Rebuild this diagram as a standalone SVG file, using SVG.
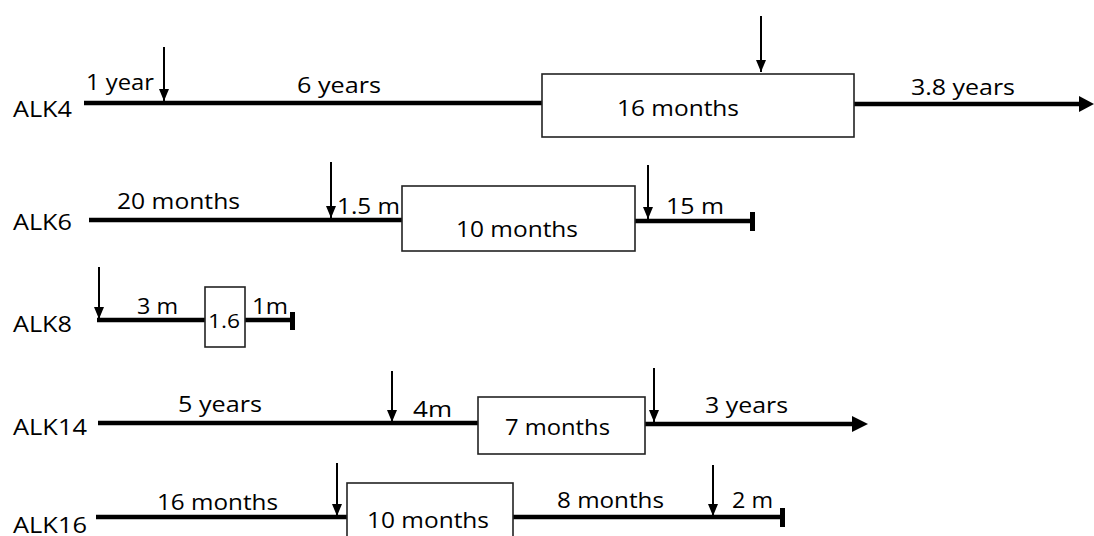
<svg xmlns="http://www.w3.org/2000/svg" width="1094" height="536" viewBox="0 0 1094 536">
<style>
text{font-family:"Open Sans","Liberation Sans",sans-serif;font-size:22px;fill:#000}
.tl{stroke:#000;stroke-width:4.5;fill:none}
.ar{stroke:#000;stroke-width:2;fill:none}
.box{fill:#fff;stroke:#222;stroke-width:1.6}
.hd{fill:#000}
</style>
<defs>
<marker id="dn" viewBox="0 0 12 10" refX="12" refY="5" markerWidth="12" markerHeight="10" markerUnits="userSpaceOnUse" orient="auto">
<path d="M0,0 L12,5 L0,10 Z" fill="#000"/>
</marker>
</defs>
<g id="connectors">
<line class="tl" x1="84" y1="103" x2="542" y2="103"/>
<line class="tl" x1="854" y1="104" x2="1082" y2="104"/>
<path class="hd" d="M1079,96 L1094,104 L1079,112 Z"/>
<line class="tl" x1="89" y1="220" x2="402" y2="220"/>
<line class="tl" x1="635" y1="221" x2="752" y2="221"/>
<rect class="hd" x="750" y="212" width="5" height="19"/>
<line class="tl" x1="97" y1="320" x2="205" y2="320"/>
<line class="tl" x1="245" y1="320" x2="292" y2="320"/>
<rect class="hd" x="290" y="312" width="5" height="18"/>
<line class="tl" x1="98" y1="423" x2="478" y2="423"/>
<line class="tl" x1="645" y1="424" x2="854" y2="424"/>
<path class="hd" d="M852,416 L868,424 L852,432 Z"/>
<line class="tl" x1="96" y1="517" x2="347" y2="517"/>
<line class="tl" x1="513" y1="517" x2="782" y2="517"/>
<rect class="hd" x="780" y="508" width="5" height="19"/>
<g class="ar">
<line x1="164" y1="47" x2="164" y2="101" marker-end="url(#dn)"/>
<line x1="761" y1="16" x2="761" y2="72" marker-end="url(#dn)"/>
<line x1="331" y1="162" x2="331" y2="218" marker-end="url(#dn)"/>
<line x1="648" y1="165" x2="648" y2="219" marker-end="url(#dn)"/>
<line x1="99" y1="267" x2="99" y2="319" marker-end="url(#dn)"/>
<line x1="392" y1="371" x2="392" y2="422" marker-end="url(#dn)"/>
<line x1="654" y1="368" x2="654" y2="422" marker-end="url(#dn)"/>
<line x1="337" y1="463" x2="337" y2="516" marker-end="url(#dn)"/>
<line x1="713" y1="465" x2="713" y2="516" marker-end="url(#dn)"/>
</g>
</g>
<g id="ALK4">
<text x="13" y="117" textLength="59" lengthAdjust="spacingAndGlyphs">ALK4</text>
<text x="86" y="90" textLength="68" lengthAdjust="spacingAndGlyphs">1 year</text>
<text x="297" y="93" textLength="84" lengthAdjust="spacingAndGlyphs">6 years</text>
<rect class="box" x="542" y="74" width="312" height="63"/>
<text x="617" y="116" textLength="122" lengthAdjust="spacingAndGlyphs">16 months</text>
<text x="911" y="95" textLength="104" lengthAdjust="spacingAndGlyphs">3.8 years</text>
</g>
<g id="ALK6">
<text x="13" y="230" textLength="59" lengthAdjust="spacingAndGlyphs">ALK6</text>
<text x="117" y="209" textLength="123" lengthAdjust="spacingAndGlyphs">20 months</text>
<text x="337" y="214" textLength="63" lengthAdjust="spacingAndGlyphs">1.5 m</text>
<rect class="box" x="402" y="186" width="233" height="65"/>
<text x="456" y="237" textLength="122" lengthAdjust="spacingAndGlyphs">10 months</text>
<text x="666" y="214" textLength="58" lengthAdjust="spacingAndGlyphs">15 m</text>
</g>
<g id="ALK8">
<text x="13" y="332" textLength="59" lengthAdjust="spacingAndGlyphs">ALK8</text>
<text x="137" y="314" textLength="41" lengthAdjust="spacingAndGlyphs">3 m</text>
<rect class="box" x="205" y="287" width="40" height="60"/>
<text x="208" y="328" textLength="32" lengthAdjust="spacingAndGlyphs" style="font-size:20px">1.6</text>
<text x="252" y="314" textLength="36" lengthAdjust="spacingAndGlyphs">1m</text>
</g>
<g id="ALK14">
<text x="13" y="435" textLength="74" lengthAdjust="spacingAndGlyphs">ALK14</text>
<text x="178" y="412" textLength="84" lengthAdjust="spacingAndGlyphs">5 years</text>
<text x="413" y="417" textLength="39" lengthAdjust="spacingAndGlyphs">4m</text>
<rect class="box" x="478" y="397" width="167" height="57"/>
<text x="505" y="435" textLength="105" lengthAdjust="spacingAndGlyphs">7 months</text>
<text x="705" y="413" textLength="83" lengthAdjust="spacingAndGlyphs">3 years</text>
</g>
<g id="ALK16">
<text x="13" y="533" textLength="74" lengthAdjust="spacingAndGlyphs">ALK16</text>
<text x="157" y="510" textLength="121" lengthAdjust="spacingAndGlyphs">16 months</text>
<rect class="box" x="347" y="483" width="166" height="70"/>
<text x="367" y="528" textLength="122" lengthAdjust="spacingAndGlyphs">10 months</text>
<text x="557" y="508" textLength="107" lengthAdjust="spacingAndGlyphs">8 months</text>
<text x="732" y="508" textLength="41" lengthAdjust="spacingAndGlyphs">2 m</text>
</g>
</svg>
